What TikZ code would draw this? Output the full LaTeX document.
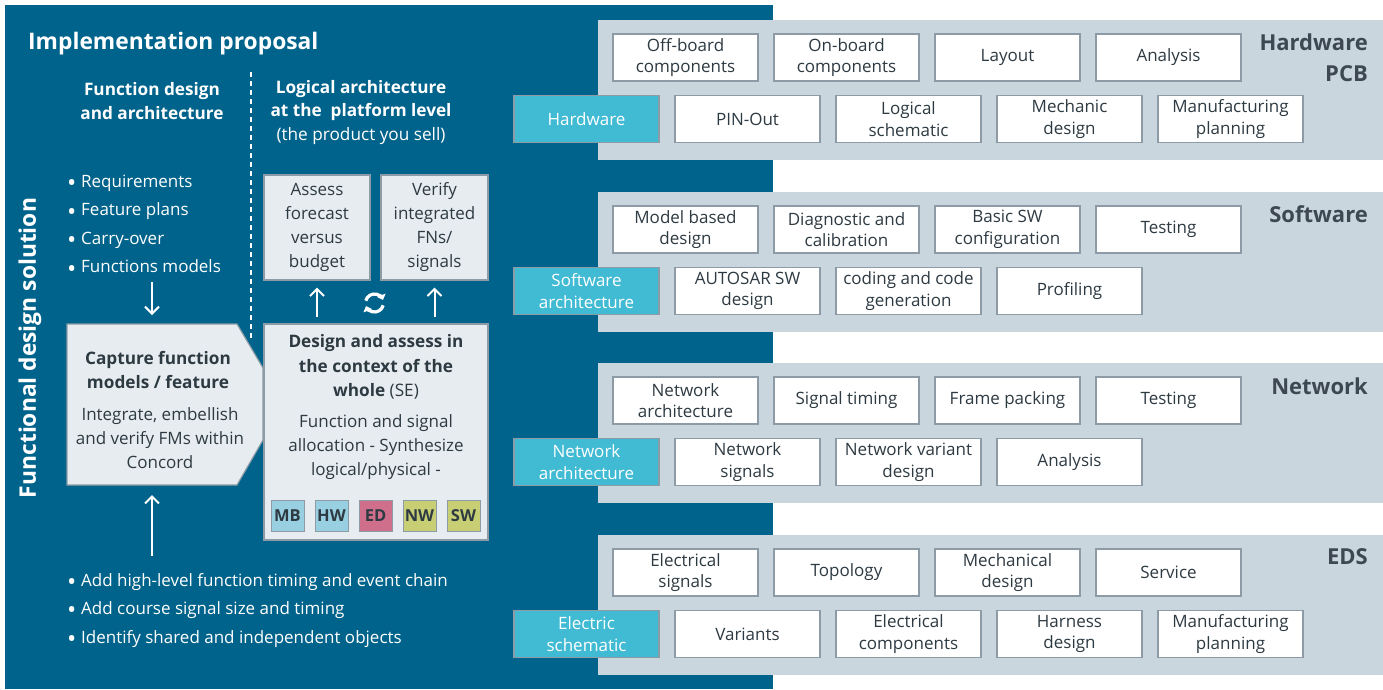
\documentclass[tikz,border=0pt]{standalone}
\usepackage{fontspec}
\setmainfont{Open Sans}
\usetikzlibrary{arrows.meta}

\definecolor{petrol}{HTML}{00638B}
\definecolor{bandgrey}{HTML}{C9D6DE}
\definecolor{cellborder}{HTML}{8C9BA5}
\definecolor{keycyan}{HTML}{41BAD3}
\definecolor{paleface}{HTML}{E6ECEF}
\definecolor{darktext}{HTML}{2E3A42}
\definecolor{bandtext}{HTML}{3D4852}
\definecolor{badgeblue}{HTML}{98D0E2}
\definecolor{badgered}{HTML}{CF6F8C}
\definecolor{badgeolive}{HTML}{C8CE73}

\newcommand{\bodyfont}{\fontsize{17}{21.5}\selectfont}
\newcommand{\itm}{\makebox[14pt][l]{\raisebox{-4.3pt}{\scalebox{1.45}{•}}}}

\tikzset{
  cellbox/.style={draw=cellborder, line width=1.2pt, fill=white, text=darktext,
    minimum width=145pt, minimum height=47pt, inner sep=1pt, align=center, font=\bodyfont},
  keycell/.style={cellbox, fill=keycyan, text=white},
  bandlabel/.style={anchor=east, align=right, inner sep=0pt, text=bandtext,
    font=\fontsize{22}{31}\selectfont\bfseries},
  palebox/.style={draw=cellborder, line width=1.2pt, fill=paleface, text=darktext,
    align=center, inner sep=0pt, font=\fontsize{17}{24}\selectfont},
  badge/.style={draw=cellborder, line width=1pt, minimum width=33pt, minimum height=31pt,
    inner sep=0pt, text=darktext, font=\fontsize{16.5}{18}\selectfont\bfseries},
  darkcopy/.style={text=darktext, align=center, inner sep=0pt, font=\fontsize{17}{24}\selectfont},
  whitecopy/.style={text=white, align=center, inner sep=0pt, font=\fontsize{17}{24}\selectfont},
  bulletitem/.style={text=white, anchor=base west, inner sep=0pt, font=\bodyfont},
  flow/.style={draw=white, line width=2pt, -{Straight Barb[length=7pt,width=14pt]}},
  cycle arrow/.style={draw=white, line width=3.2pt, -{Triangle[length=5pt,width=9pt]}},
}

\begin{document}
\begin{tikzpicture}[x=1pt, y=-1pt]
\useasboundingbox (0,0) rectangle (1383,689);

% dark panel and grey bands
\fill[petrol] (5,5) rectangle (773,689);
\foreach \t in {20,192,363,535}
  \fill[bandgrey] (598,\t) rectangle (1383,\t+140);

% Hardware PCB
\node[cellbox] (offboard) at (685.5,57.5) {Off-board\\components};
\node[cellbox] (onboard) at (846.5,57.5) {On-board\\components};
\node[cellbox] (layout) at (1007.5,57.5) {Layout};
\node[cellbox] (hwanalysis) at (1168.5,57.5) {Analysis};
\node[keycell] (hardware) at (586.5,119) {Hardware};
\node[cellbox] (pinout) at (747.5,119) {PIN-Out};
\node[cellbox] (logschem) at (908.5,119) {Logical\\schematic};
\node[cellbox] (mechanic) at (1069.5,119) {Mechanic\\design};
\node[cellbox] (hwmanuf) at (1230.5,119) {Manufacturing\\planning};
\node[bandlabel] (hwlabel) at (1368,57.5) {Hardware\\PCB};

% Software
\node[cellbox] (modelbased) at (685.5,229.5) {Model based\\design};
\node[cellbox] (diagcal) at (846.5,229.5) {Diagnostic and\\calibration};
\node[cellbox] (basicsw) at (1007.5,229.5) {Basic SW\\configuration};
\node[cellbox] (swtesting) at (1168.5,229.5) {Testing};
\node[keycell] (swarch) at (586.5,291) {Software\\architecture};
\node[cellbox] (autosar) at (747.5,291) {AUTOSAR SW\\design};
\node[cellbox] (coding) at (908.5,291) {coding and code\\generation};
\node[cellbox] (profiling) at (1069.5,291) {Profiling};
\node[bandlabel] (swlabel) at (1368,214) {Software};

% Network
\node[cellbox] (nwarch) at (685.5,400.5) {Network\\architecture};
\node[cellbox] (sigtiming) at (846.5,400.5) {Signal timing};
\node[cellbox] (framepack) at (1007.5,400.5) {Frame packing};
\node[cellbox] (nwtesting) at (1168.5,400.5) {Testing};
\node[keycell] (nwkey) at (586.5,462) {Network\\architecture};
\node[cellbox] (nwsignals) at (747.5,462) {Network\\signals};
\node[cellbox] (nwvariant) at (908.5,462) {Network variant\\design};
\node[cellbox] (nwanalysis) at (1069.5,462) {Analysis};
\node[bandlabel] (nwlabel) at (1368,386) {Network};

% EDS
\node[cellbox] (elsignals) at (685.5,572.5) {Electrical\\signals};
\node[cellbox] (topology) at (846.5,572.5) {Topology};
\node[cellbox] (mechdesign) at (1007.5,572.5) {Mechanical\\design};
\node[cellbox] (service) at (1168.5,572.5) {Service};
\node[keycell] (elschem) at (586.5,634) {Electric\\schematic};
\node[cellbox] (variants) at (747.5,634) {Variants};
\node[cellbox] (elcomp) at (908.5,634) {Electrical\\components};
\node[cellbox] (harness) at (1069.5,634) {Harness\\design};
\node[cellbox] (edsmanuf) at (1230.5,634) {Manufacturing\\planning};
\node[bandlabel] (edslabel) at (1368,557) {EDS};

% left panel headings
\node[text=white, anchor=base west, inner sep=0pt, font=\fontsize{22.8}{26}\selectfont\bfseries]
  (proposal) at (28,49) {Implementation proposal};
\node[text=white, rotate=90, inner sep=0pt, font=\fontsize{22.8}{26}\selectfont\bfseries]
  (solution) at (30,348) {Functional design solution};
\node[whitecopy, font=\fontsize{17.2}{24}\selectfont\bfseries]
  (fnhead) at (152,101) {Function design\\and architecture};
\node[whitecopy, font=\fontsize{17.2}{23.5}\selectfont] (loghead) at (361,112.5)
  {\textbf{Logical architecture}\\\textbf{at the\ \ platform level}\\(the product you sell)};
\draw[white, line width=1.2pt, dash pattern=on 5pt off 4pt] (251,72) -- (251,340);

% inputs
\foreach \txt [count=\i] in {Requirements, Feature plans, Carry-over, Functions models}
  \node[bulletitem] (req\i) at (67,158.5+28.6*\i) {\itm\txt};
\node[bulletitem] (timing) at (67,586) {\itm Add high-level function timing and event chain};
\node[bulletitem] (sizing) at (67,614) {\itm Add course signal size and timing};
\node[bulletitem] (shared) at (67,643) {\itm Identify shared and independent objects};

% capture box
\draw[cellborder, line width=1.2pt, fill=paleface]
  (67,324) -- (237,324) -- (263,368) -- (263,440) -- (237,485) -- (67,485) -- cycle;
\node[darkcopy, font=\fontsize{17.2}{24}\selectfont\bfseries] (capture) at (158,370)
  {Capture function\\models / feature};
\node[darkcopy] (capturebody) at (160,438)
  {Integrate, embellish\\and verify FMs within\\Concord};
\coordinate (reqfoot) at (152,282);
\coordinate (captop) at (152,324);
\coordinate (capbot) at (152,485);
\coordinate (impfoot) at (152,556);
\draw[flow, shorten >=9pt] (reqfoot) -- (captop);
\draw[flow, shorten >=10pt] (impfoot) -- (capbot);

% logical architecture boxes
\node[palebox, minimum width=106pt, minimum height=105pt] (assess) at (317,227.5)
  {Assess\\forecast\\versus\\budget};
\node[palebox, minimum width=107pt, minimum height=105pt] (verify) at (434.5,227.5)
  {Verify\\integrated\\FNs/\\signals};
\node[palebox, minimum width=224pt, minimum height=216pt] (design) at (376,432) {};
\node[darkcopy, font=\fontsize{17.2}{24.5}\selectfont\bfseries] (designhead) at (376,367)
  {Design and assess in\\the context of the\\whole \mdseries(SE)};
\node[darkcopy] (designbody) at (376,447)
  {Function and signal\\allocation - Synthesize\\logical/physical -};
\node[badge, fill=badgeblue] (mb) at (287.5,515.5) {MB};
\node[badge, fill=badgeblue] (hw) at (331.5,515.5) {HW};
\node[badge, fill=badgered] (ed) at (375.5,515.5) {ED};
\node[badge, fill=badgeolive] (nw) at (419.5,515.5) {NW};
\node[badge, fill=badgeolive] (sw) at (463.5,515.5) {SW};

\draw[flow, shorten <=6pt, shorten >=7pt] (design.north -| assess.south) -- (assess.south);
\draw[flow, shorten <=6pt, shorten >=7pt] (design.north -| verify.south) -- (verify.south);

% iteration icon
\coordinate (cyc) at (374.5,303);
\draw[cycle arrow] (cyc) ++(165:9pt) arc[start angle=165, end angle=20, radius=9pt];
\draw[cycle arrow] (cyc) ++(-15:9pt) arc[start angle=-15, end angle=-160, radius=9pt];
\end{tikzpicture}
\end{document}
